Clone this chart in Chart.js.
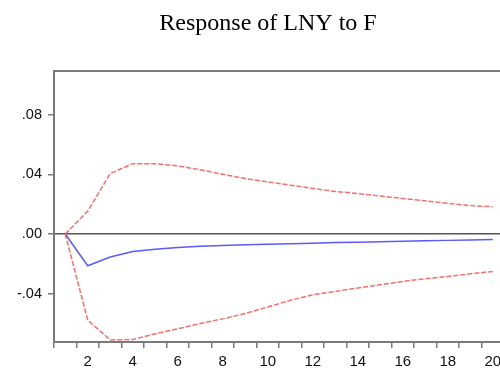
<!DOCTYPE html>
<html><head><meta charset="utf-8">
<script src="https://cdn.jsdelivr.net/npm/chart.js@4/dist/chart.umd.min.js"></script>
<style>html,body{margin:0;padding:0;overflow:hidden;background:#fff;width:500px;height:370px}canvas{display:block}</style>
</head><body>
<canvas id="c" width="536" height="370" style="width:536px;height:370px"></canvas>
<script>
const periods = ["1","2","3","4","5","6","7","8","9","10","11","12","13","14","15","16","17","18","19","20"];
const response = [0, -0.0213, -0.0155, -0.0118, -0.0102, -0.0090, -0.0083, -0.0078, -0.0073, -0.0069, -0.0065, -0.0062, -0.0058, -0.0055, -0.0052, -0.0049, -0.0046, -0.0043, -0.0040, -0.0037];
const upperBand = [0, 0.0153, 0.0405, 0.0471, 0.0471, 0.0456, 0.0430, 0.0400, 0.0371, 0.0349, 0.0327, 0.0305, 0.0285, 0.0271, 0.0255, 0.0238, 0.0222, 0.0205, 0.0190, 0.0182];
const lowerBand = [0, -0.0578, -0.0710, -0.0707, -0.0669, -0.0636, -0.0600, -0.0569, -0.0533, -0.0489, -0.0445, -0.0407, -0.0385, -0.0362, -0.0340, -0.0318, -0.0300, -0.0285, -0.0267, -0.0251];
const yTickValues = [-0.04, 0, 0.04, 0.08];
const yTickLabels = ["-.04", ".00", ".04", ".08"];
const titleText = "Response of LNY to F";

const framePlugin = {
  id: 'frame',
  beforeDatasetsDraw(chart) {
    const a = chart.chartArea, ctx = chart.ctx;
    ctx.save();
    ctx.strokeStyle = '#7a7a7a';
    ctx.lineWidth = 2;
    ctx.strokeRect(a.left, a.top, a.right - a.left, a.bottom - a.top);
    ctx.restore();
  },
  afterDraw(chart) {
    const ctx = chart.ctx;
    ctx.save();
    ctx.fillStyle = '#000';
    ctx.font = '24px "Liberation Serif", "Times New Roman", serif';
    ctx.textAlign = 'center';
    ctx.textBaseline = 'alphabetic';
    ctx.fillText(titleText, 268, 29.5);
    ctx.restore();
  }
};

new Chart(document.getElementById('c'), {
  type: 'line',
  data: {
    labels: periods,
    datasets: [
      { data: upperBand, borderColor: 'rgba(255,90,90,0.9)', borderWidth: 1.5, borderDash: [5, 2], pointRadius: 0, tension: 0, fill: false },
      { data: lowerBand, borderColor: 'rgba(255,90,90,0.9)', borderWidth: 1.5, borderDash: [5, 2], pointRadius: 0, tension: 0, fill: false },
      { data: response, borderColor: '#5a5aff', borderWidth: 1.5, pointRadius: 0, tension: 0, fill: false }
    ]
  },
  options: {
    responsive: false,
    animation: false,
    layout: { padding: { left: 0, right: 32, top: 71, bottom: 0 } },
    plugins: {
      legend: { display: false },
      tooltip: { enabled: false },
      title: { display: false }
    },
    scales: {
      x: {
        type: 'category',
        offset: true,
        border: { display: false },
        grid: { offset: true, drawOnChartArea: false, drawTicks: true, tickLength: 6, tickColor: '#7a7a7a', lineWidth: 1.5 },
        ticks: {
          autoSkip: false, maxRotation: 0, padding: 5, color: '#111',
          font: { family: '"Liberation Sans", Arial, sans-serif', size: 15 },
          callback: function(v, i) { const l = periods[i]; return (Number(l) % 2 === 0) ? l : ''; }
        },
        afterFit(scale) { scale.height = 28; }
      },
      y: {
        min: -0.0724, max: 0.1092,
        border: { display: false },
        afterBuildTicks(scale) { scale.ticks = yTickValues.map(v => ({ value: v })); },
        grid: {
          drawOnChartArea: true, drawTicks: true, tickLength: 6,
          color: ctx => (ctx.tick && ctx.tick.value === 0) ? '#555' : 'rgba(0,0,0,0)',
          tickColor: '#7a7a7a', lineWidth: 1.5
        },
        ticks: {
          padding: 6, color: '#111',
          font: { family: '"Liberation Sans", Arial, sans-serif', size: 14.5 },
          callback: v => { const i = yTickValues.findIndex(t => Math.abs(t - v) < 1e-9); return i >= 0 ? yTickLabels[i] : ''; }
        },
        afterFit(scale) { scale.width = 54; }
      }
    }
  },
  plugins: [framePlugin]
});
</script>
</body></html>
